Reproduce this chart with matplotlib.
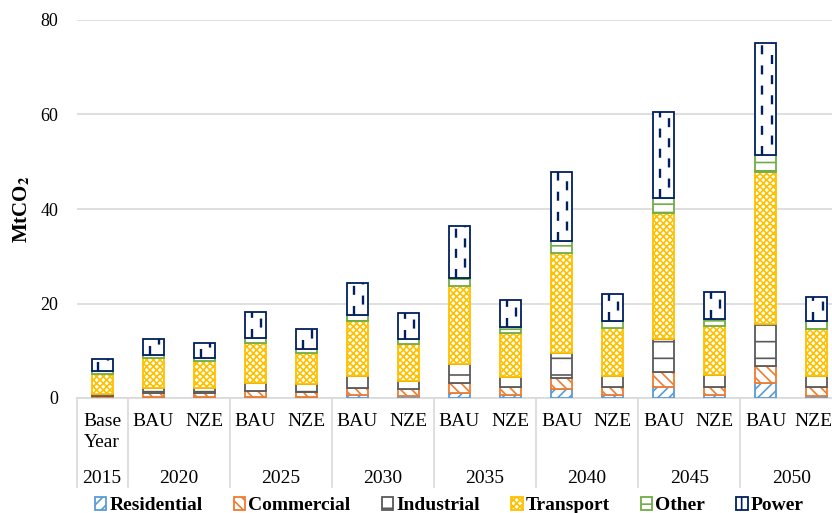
import numpy as np
import matplotlib
matplotlib.use("Agg")
import matplotlib.pyplot as plt
from matplotlib.patches import Patch

# === data (MtCO2) ===
years = ["2015", "2020", "2025", "2030", "2035", "2040", "2045", "2050"]
categories = ["Base\nYear", "BAU", "NZE", "BAU", "NZE", "BAU", "NZE", "BAU", "NZE",
              "BAU", "NZE", "BAU", "NZE", "BAU", "NZE"]
sectors = ["Residential", "Commercial", "Industrial", "Transport", "Other", "Power"]

residential = [0.05, 0.2, 0.2, 0.3, 0.3, 0.6, 0.4, 1.1, 0.6, 1.8, 0.6, 2.3, 0.6, 3.1, 0.5]
commercial = [0.4, 0.8, 0.8, 1.1, 0.9, 1.6, 1.5, 2.0, 1.7, 2.4, 1.7, 3.3, 1.7, 3.7, 1.9]
industrial = [0.5, 1.2, 1.2, 1.8, 1.7, 2.5, 1.8, 4.0, 2.2, 5.3, 2.4, 6.8, 2.6, 8.8, 2.3]
transport = [4.2, 6.2, 5.6, 8.5, 6.6, 11.5, 7.7, 16.5, 9.3, 21.1, 10.2, 26.8, 10.4, 32.2, 10.0]
other = [0.6, 0.7, 0.6, 1.0, 0.8, 1.4, 1.1, 1.7, 1.2, 2.6, 1.3, 3.1, 1.4, 3.6, 1.6]
power = [2.4, 3.3, 3.3, 5.5, 4.3, 6.8, 5.4, 11.1, 5.7, 14.7, 5.8, 18.3, 5.8, 23.7, 5.1]

series = [residential, commercial, industrial, transport, other, power]
colors = ["#5B9BD5", "#ED7D31", "#595959", "#FFC000", "#70AD47", "#002060"]
hatches = ["///", "\\\\\\", "-", "xxxxx", "--", ""]
legend_hatches = ["///", "\\\\\\", "-", "xxxxx", "--", "|"]

plt.rcParams["font.family"] = ["Liberation Serif", "DejaVu Serif"]
plt.rcParams["mathtext.fontset"] = "stix"
plt.rcParams["hatch.linewidth"] = 1.2
plt.rcParams["lines.scale_dashes"] = False

fig = plt.figure(figsize=(8.32, 5.13), dpi=100)
ax = fig.add_axes([76.5 / 832, 115 / 513, 766 / 832, 378 / 513])

width = 0.41
x = np.arange(len(categories))
bottom = np.zeros(len(categories))
for vals, c, h in zip(series, colors, hatches):
    vals = np.array(vals)
    ax.bar(x, vals, width, bottom=bottom, facecolor="white", edgecolor=c,
           hatch=h, linewidth=1.3, zorder=3)
    bottom += vals

# dashed vertical pattern inside the Power segments
p_top = bottom
p_bot = bottom - np.array(power)
ax.vlines(x - 0.07, p_bot, p_top, color=colors[5], linewidth=1.7,
          linestyles=[(0, (6.5, 8))], zorder=4)
ax.vlines(x + 0.11, p_bot, p_top, color=colors[5], linewidth=1.7,
          linestyles=[(7, (6.5, 8))], zorder=4)

ax.set_xlim(-0.5, len(categories) - 0.5)
ax.set_ylim(0, 80)
ax.set_yticks([0, 20, 40, 60, 80])
ax.tick_params(axis="y", length=0, pad=13, labelsize=13)
ax.set_xticks([])
ax.grid(axis="y", color="#D9D9D9", linewidth=1.2, zorder=0)
for s in ["left", "right", "top"]:
    ax.spines[s].set_visible(False)
ax.spines["bottom"].set_color("#D9D9D9")
ax.spines["bottom"].set_linewidth(1.2)

ax.set_ylabel(r"MtCO$_\mathbf{2}$", fontsize=15, fontweight="bold")
ax.yaxis.set_label_coords(-0.058, 0.5)

# multi-level category axis
trans = ax.get_xaxis_transform()
for i, lab in enumerate(categories):
    xi = i - 0.06 if i == len(categories) - 1 else i
    if "\n" in lab:
        ax.text(xi, -0.09, lab, transform=trans, ha="center", va="center",
                fontsize=14, linespacing=1.3)
    else:
        ax.text(xi, -0.061, lab, transform=trans, ha="center", va="center", fontsize=14)

centers = [0] + [1.5 + 2 * k for k in range(7)]
for cx, yr in zip(centers, years):
    ax.text(cx, -0.212, yr, transform=trans, ha="center", va="center", fontsize=14)

seps = [-0.5] + [0.5 + 2 * k for k in range(8)]
for sx in seps:
    ax.plot([sx, sx], [0, -0.235], transform=trans, color="#D9D9D9",
            linewidth=1.2, clip_on=False)

handles = [Patch(facecolor="white", edgecolor=c, hatch=h, linewidth=1.3)
           for c, h in zip(colors, legend_hatches)]
fig.legend(handles, sectors, loc="center", bbox_to_anchor=(0.54, 0.014), ncol=6,
           frameon=False, prop={"weight": "bold", "size": 14},
           handlelength=0.6, handleheight=0.6, handletextpad=0.15, columnspacing=1.6)

fig.savefig("out.png", dpi=100)
